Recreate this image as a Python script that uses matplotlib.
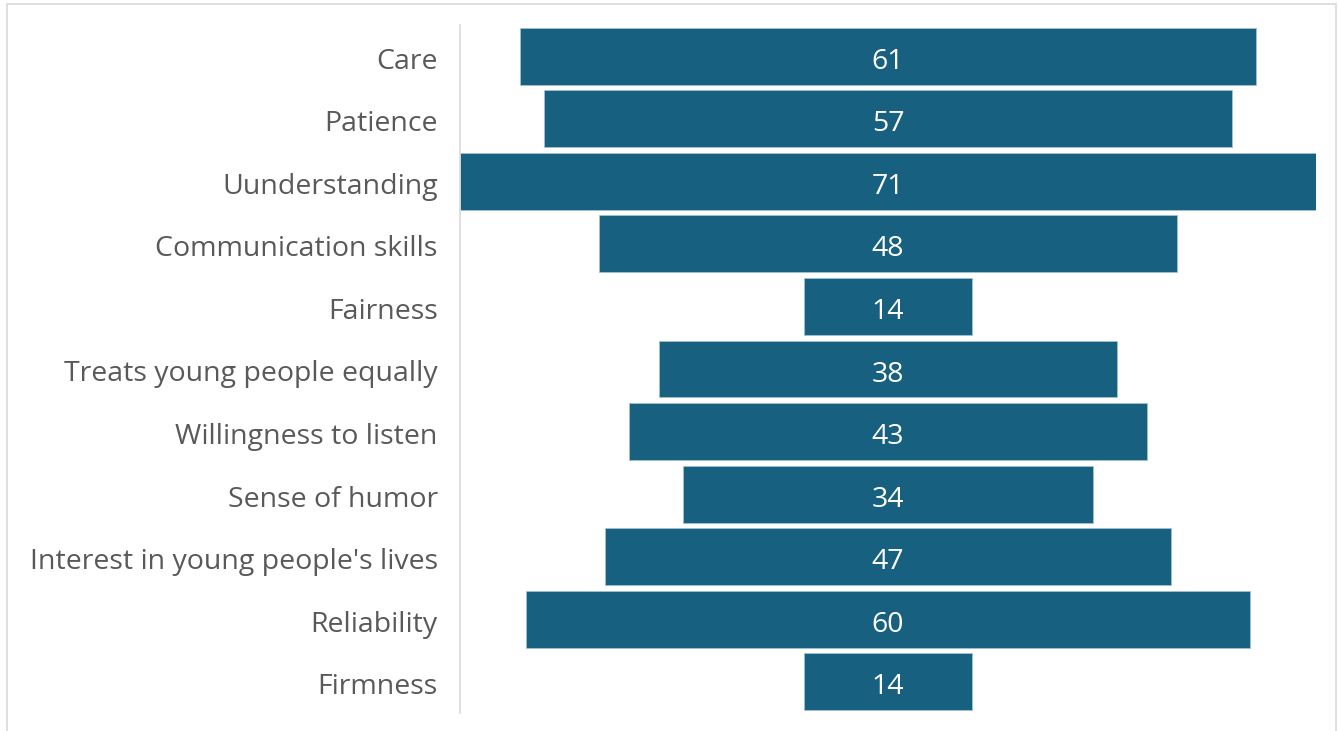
import matplotlib.pyplot as plt
from matplotlib.patches import Rectangle
from matplotlib.transforms import ScaledTranslation

categories = [
    "Care", "Patience", "Uunderstanding", "Communication skills", "Fairness",
    "Treats young people equally", "Willingness to listen", "Sense of humor",
    "Interest in young people's lives", "Reliability", "Firmness",
]
values = [61, 57, 71, 48, 14, 38, 43, 34, 47, 60, 14]

plt.rcParams["font.family"] = ["Open Sans", "DejaVu Sans"]

fig = plt.figure(figsize=(13.38, 7.31), dpi=100)
ax = fig.add_axes([460 / 1338, 1 - 713 / 731, 856 / 1338, 688 / 731])

ypos = list(range(len(categories)))
lefts = [-v / 2 for v in values]
bars = ax.barh(ypos, values, left=lefts, height=0.91, color="#17607F",
               edgecolor="#9fc3d3", linewidth=0.6)

# nudge all text a couple of pixels down
shift = ScaledTranslation(0, -2 / 100, fig.dpi_scale_trans)

for y, v in zip(ypos, values):
    ax.text(0, y, str(v), ha="center", va="center_baseline", color="white",
            fontsize=20.5, transform=ax.transData + shift)

ax.set_xlim(-35.5, 35.5)
ax.set_ylim(len(categories) - 0.5, -0.5)
ax.set_yticks(ypos)
ax.set_yticklabels(categories, fontsize=20.5, color="#595959",
                   va="center_baseline")
ax.tick_params(axis="y", length=0, pad=16)
ax.set_xticks([])
for lbl in ax.get_yticklabels():
    lbl.set_transform(lbl.get_transform() + shift)

for side in ["top", "right", "bottom"]:
    ax.spines[side].set_visible(False)
ax.spines["left"].set_color("#d9d9d9")
ax.spines["left"].set_linewidth(1.2)

# light frame around the whole chart
fig.patches.append(Rectangle((7 / 1338, -0.01), 1329 / 1338, 1 - 4 / 731 + 0.01,
                             transform=fig.transFigure, fill=False,
                             edgecolor="#d9d9d9", linewidth=1.2))

fig.savefig("out.png", dpi=100)
